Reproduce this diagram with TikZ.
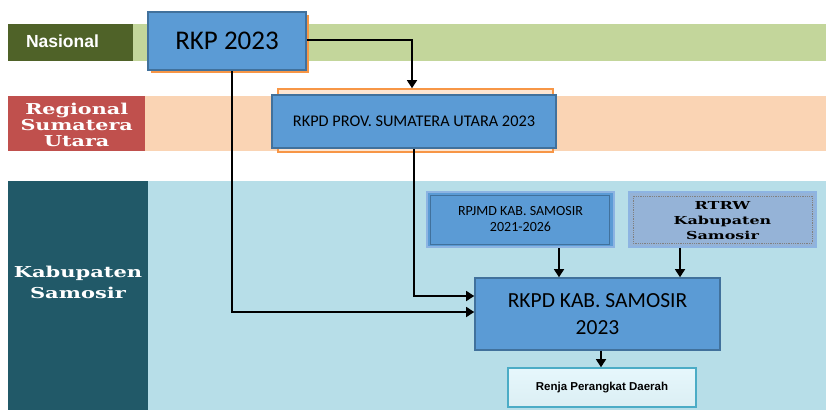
\documentclass[tikz,border=0pt]{standalone}
\usepackage{fontspec}
\setmainfont{Carlito}
\newfontfamily\labsans{Liberation Sans}
\newfontfamily\slab{DejaVu Serif}
\usetikzlibrary{arrows.meta,positioning,calc}
\definecolor{natband}{HTML}{C3D69B}
\definecolor{natlab}{HTML}{4F6228}
\definecolor{regband}{HTML}{FAD4B4}
\definecolor{reglab}{HTML}{C0504D}
\definecolor{kabband}{HTML}{B7DEE8}
\definecolor{kablab}{HTML}{215968}
\definecolor{boxblue}{HTML}{5B9BD5}
\definecolor{boxedge}{HTML}{41719C}
\definecolor{lightblue}{HTML}{95B3D7}
\definecolor{paleedge}{HTML}{8DB4E2}
\definecolor{orangeedge}{HTML}{F79646}
\definecolor{renjaedge}{HTML}{4BACC6}
\definecolor{renjafill}{HTML}{E6F7FC}
\newcommand{\slabtext}[3]{\scalebox{#1}[1]{\begin{tabular}{@{}c@{}}#3\end{tabular}}}
\tikzset{
  x=1pt,y=-1pt,
  band/.style={draw=none,inner sep=0,anchor=north west},
  lab/.style={draw=none,inner sep=0,anchor=north west,text=white,align=center},
  bluebox/.style={draw=boxedge,line width=1.6pt,fill=boxblue,inner sep=0,align=center},
  conn/.style={line width=1.4pt,-{Triangle[width=10pt,length=8pt]}},
}
\begin{document}
\begin{tikzpicture}
\useasboundingbox (0,0) rectangle (826,410);
% bands
\node[band,fill=natband,minimum width=818,minimum height=37] (natband) at (8,24) {};
\node[lab,fill=natlab,minimum width=125,minimum height=37] (natlab) at (8,24) {};
\node[text=white,font=\labsans\bfseries\fontsize{17.5}{19}\selectfont] (nattxt) at (62.5,41) {Nasional};
\node[band,fill=regband,minimum width=818,minimum height=55] (regband) at (8,96) {};
\node[lab,fill=reglab,minimum width=137,minimum height=55] (reglab) at (8,96) {};
\node[text=white,inner sep=0,font=\slab\bfseries\fontsize{15}{16}\selectfont] (regtxt) at ([yshift=-3pt]reglab.center) {\slabtext{1.38}{}{Regional\\Sumatera\\Utara}};
\node[band,fill=kabband,minimum width=818,minimum height=229] (kabband) at (8,181) {};
\node[lab,fill=kablab,minimum width=140,minimum height=229] (kablab) at (8,181) {};
\node[text=white,inner sep=0,font=\slab\bfseries\fontsize{15}{21}\selectfont] (kabtxt) at (78,284) {\slabtext{1.4}{}{Kabupaten\\Samosir}};
% RKP
\fill[orangeedge] (151,15) rectangle (309,73);
\node[bluebox,minimum width=158,minimum height=58,font=\fontsize{27}{30}\selectfont] (rkp) at (227,41) {RKP 2023};
% RKPD prov
\node[draw=orangeedge,line width=1.6pt,fill=regband!60!white,minimum width=275,minimum height=63,inner sep=0] (provframe) at (415.5,120.5) {};
\node[bluebox,minimum width=284,minimum height=53,font=\fontsize{16.3}{18}\selectfont] (prov) at (414,121.5) {RKPD PROV. SUMATERA UTARA 2023};
% RPJMD
\node[draw=paleedge,line width=2pt,fill=boxblue,minimum width=187,minimum height=55,inner sep=0] (rpjmd) at (520.5,219.5) {};
\draw[boxedge,line width=1pt] ($(rpjmd.north west)+(4,4)$) rectangle ($(rpjmd.south east)+(-6,-4)$);
\node[align=center,inner sep=0,font=\fontsize{14}{16}\selectfont] (rpjmdtxt) at (rpjmd.center) {RPJMD KAB. SAMOSIR\\2021-2026};
% RTRW
\node[draw=paleedge,line width=2pt,fill=lightblue,minimum width=187,minimum height=55,inner sep=0] (rtrw) at (722.5,219.5) {};
\draw[gray,line width=0.8pt,densely dotted] ($(rtrw.north west)+(5,5)$) rectangle ($(rtrw.south east)+(-5,-5)$);
\node[inner sep=0,font=\slab\bfseries\fontsize{11}{15}\selectfont] (rtrwtxt) at ([yshift=-2pt]rtrw.center) {\slabtext{1.45}{}{RTRW\\Kabupaten\\Samosir}};
% RKPD kab
\node[bluebox,minimum width=245,minimum height=72,font=\fontsize{21.5}{27}\selectfont] (kab) at (597.5,314) {RKPD KAB. SAMOSIR\\2023};
% Renja
\node[draw=renjaedge,line width=1.6pt,top color=renjafill,bottom color=white!80!renjaedge,minimum width=188,minimum height=39,inner sep=0,font=\labsans\bfseries\fontsize{11.5}{13}\selectfont] (renja) at (602,387.5) {Renja Perangkat Daerah};
% connectors
\draw[conn] (rkp.east |- 0,40) -| (provframe.north -| 412,0);
\draw[conn] ([xshift=5pt]rkp.south) |- (kab.west |- 0,312);
\draw[conn] (prov.south) |- (kab.west |- 0,296);
\draw[conn] (rpjmd.south -| 559,0) -- (kab.north -| 559,0);
\draw[conn] (rtrw.south -| 680,0) -- (kab.north -| 680,0);
\draw[conn] (kab.south -| 601,0) -- (renja.north -| 601,0);
\end{tikzpicture}
\end{document}
